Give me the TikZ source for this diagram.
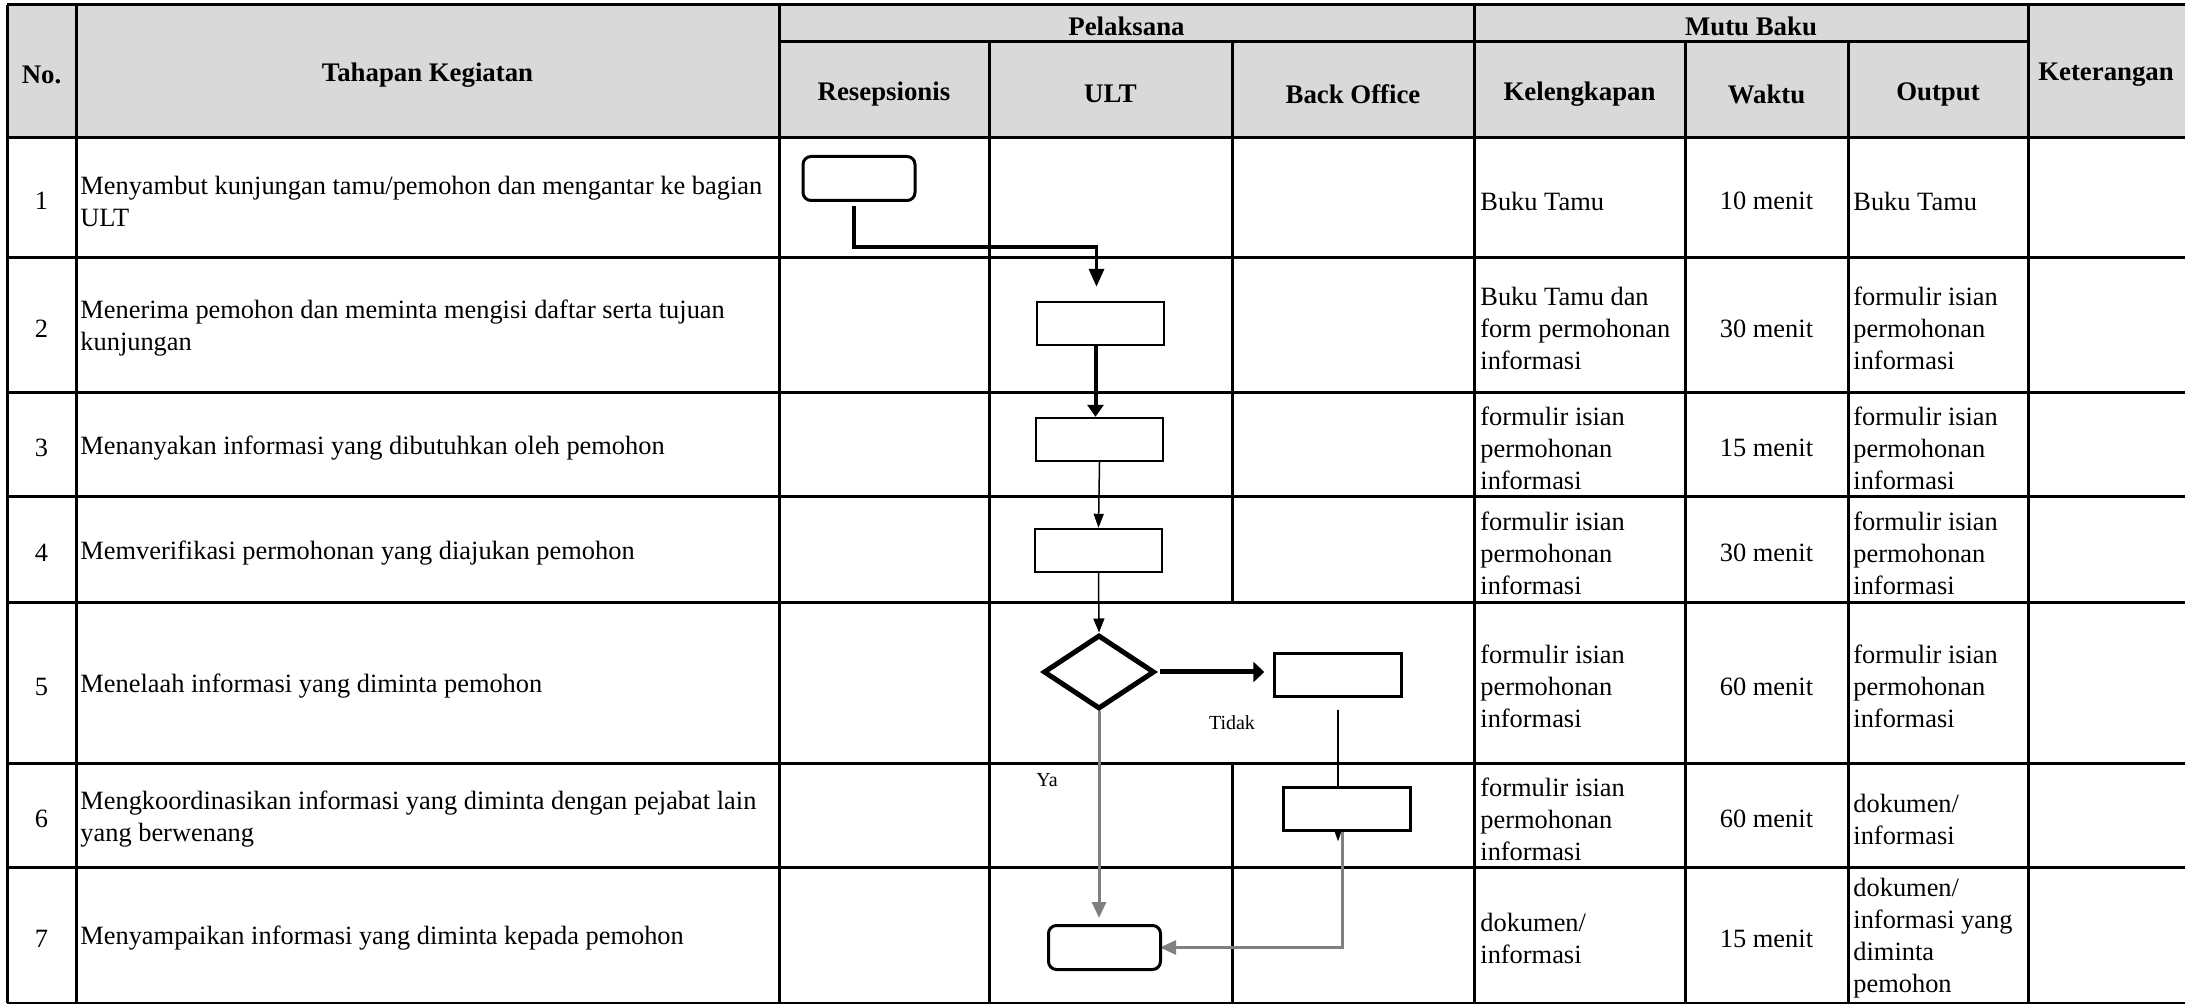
\documentclass[tikz,border=0pt]{standalone}
\usepackage{fontspec}
\setmainfont{Liberation Serif}
\usetikzlibrary{arrows.meta,shapes.geometric}
\pgfdeclarelayer{grid}
\pgfdeclarelayer{links}
\pgfsetlayers{grid,links,main}
\definecolor{headgray}{HTML}{D9D9D9}
\definecolor{linkgray}{HTML}{808080}
\tikzset{
	rowtext/.style={inner sep=0pt, yshift=-1.5pt, font=\fontsize{13.2}{16}\selectfont, align=left},
	headtext/.style={inner sep=0pt, yshift=-1.5pt, font=\fontsize{13.4}{16}\selectfont\bfseries, align=center},
	tag/.style={inner sep=0pt, font=\fontsize{10}{12}\selectfont},
	gridline/.style={line width=1.5pt},
	actbox/.style={draw, fill=white, line width=1.2pt, minimum width=63.5pt, minimum height=21.5pt, inner sep=0pt},
	termbox/.style={draw, fill=white, line width=1.5pt, rounded corners=4pt, minimum width=56pt, minimum height=22pt, inner sep=0pt},
	decbox/.style={draw, fill=white, diamond, line width=2.5pt, minimum width=55.5pt, minimum height=37pt, inner sep=0pt},
	grayline/.style={draw=linkgray, line width=1.5pt, -{Triangle[length=8pt,width=7pt]}, linkgray}
}

\begin{document}
\begin{tikzpicture}[x=0.5pt,y=-0.5pt]
	\useasboundingbox (0,0) rectangle (2185,1004);

	\begin{pgfonlayer}{grid}
	\fill[headgray] (7,5) rectangle (2185,138);
	\draw[gridline] (7,5) -- (2185,5);
	\draw[gridline] (779,42) -- (2028,42);
	\draw[gridline] (7,138) -- (2185,138);
	\draw[gridline] (7,258) -- (2185,258);
	\draw[gridline] (7,393) -- (2185,393);
	\draw[gridline] (7,497) -- (2185,497);
	\draw[gridline] (7,603) -- (2185,603);
	\draw[gridline] (7,764) -- (2185,764);
	\draw[gridline] (7,868) -- (2185,868);
	\draw[gridline] (7,1003) -- (2185,1003);
	\draw[gridline] (7,5) -- (7,1003);
	\draw[gridline] (76,5) -- (76,1003);
	\draw[gridline] (779,5) -- (779,1003);
	\draw[gridline] (989,42) -- (989,1003);
	\draw[gridline] (1232,42) -- (1232,603);
	\draw[gridline] (1232,764) -- (1232,1003);
	\draw[gridline] (1474,5) -- (1474,1003);
	\draw[gridline] (1685,42) -- (1685,1003);
	\draw[gridline] (1848,42) -- (1848,1003);
	\draw[gridline] (2028,5) -- (2028,1003);
	\end{pgfonlayer}

	\node[headtext] (hno) at (41.5,72) {No.};
	\node[headtext] (htahap) at (427.5,72) {Tahapan Kegiatan};
	\node[headtext] (hpelak) at (1126.5,23) {Pelaksana};
	\node[headtext] (hmutu) at (1751,23) {Mutu Baku};
	\node[headtext] (hket) at (2106,72) {Keterangan};
	\node[headtext] (hresep) at (884,91) {Resepsionis};
	\node[headtext] (hult) at (1110.5,91) {ULT};
	\node[headtext] (hback) at (1353,91) {Back Office};
	\node[headtext] (hlengkap) at (1579.5,91) {Kelengkapan};
	\node[headtext] (hwaktu) at (1766.5,91) {Waktu};
	\node[headtext] (houtput) at (1938,91) {Output};

	\node[rowtext] (no1) at (41.5,198) {1};
	\node[rowtext] (no2) at (41.5,325.5) {2};
	\node[rowtext] (no3) at (41.5,445) {3};
	\node[rowtext] (no4) at (41.5,550) {4};
	\node[rowtext] (no5) at (41.5,683.5) {5};
	\node[rowtext] (no6) at (41.5,816) {6};
	\node[rowtext] (no7) at (41.5,935.5) {7};

	\node[rowtext, anchor=west] (keg1) at (80,198) {Menyambut kunjungan tamu/pemohon dan mengantar ke bagian\\ULT};
	\node[rowtext, anchor=west] (keg2) at (80,325.5) {Menerima pemohon dan meminta mengisi daftar serta tujuan\\kunjungan};
	\node[rowtext, anchor=west] (keg3) at (80,445) {Menanyakan informasi yang dibutuhkan oleh pemohon};
	\node[rowtext, anchor=west] (keg4) at (80,550) {Memverifikasi permohonan yang diajukan pemohon};
	\node[rowtext, anchor=west] (keg5) at (80,683.5) {Menelaah informasi yang diminta pemohon};
	\node[rowtext, anchor=west] (keg6) at (80,816) {Mengkoordinasikan informasi yang diminta dengan pejabat lain\\yang berwenang};
	\node[rowtext, anchor=west] (keg7) at (80,935.5) {Menyampaikan informasi yang diminta kepada pemohon};

	\node[rowtext, anchor=west] (kel1) at (1480,198) {Buku Tamu};
	\node[rowtext, anchor=west] (kel2) at (1480,325.5) {Buku Tamu dan\\form permohonan\\informasi};
	\node[rowtext, anchor=west] (kel3) at (1480,445) {formulir isian\\permohonan\\informasi};
	\node[rowtext, anchor=west] (kel4) at (1480,550) {formulir isian\\permohonan\\informasi};
	\node[rowtext, anchor=west] (kel5) at (1480,683.5) {formulir isian\\permohonan\\informasi};
	\node[rowtext, anchor=west] (kel6) at (1480,816) {formulir isian\\permohonan\\informasi};
	\node[rowtext, anchor=west] (kel7) at (1480,935.5) {dokumen/\\informasi};

	\node[rowtext] (wkt1) at (1766.5,198) {10 menit};
	\node[rowtext] (wkt2) at (1766.5,325.5) {30 menit};
	\node[rowtext] (wkt3) at (1766.5,445) {15 menit};
	\node[rowtext] (wkt4) at (1766.5,550) {30 menit};
	\node[rowtext] (wkt5) at (1766.5,683.5) {60 menit};
	\node[rowtext] (wkt6) at (1766.5,816) {60 menit};
	\node[rowtext] (wkt7) at (1766.5,935.5) {15 menit};

	\node[rowtext, anchor=west] (out1) at (1853,198) {Buku Tamu};
	\node[rowtext, anchor=west] (out2) at (1853,325.5) {formulir isian\\permohonan\\informasi};
	\node[rowtext, anchor=west] (out3) at (1853,445) {formulir isian\\permohonan\\informasi};
	\node[rowtext, anchor=west] (out4) at (1853,550) {formulir isian\\permohonan\\informasi};
	\node[rowtext, anchor=west] (out5) at (1853,683.5) {formulir isian\\permohonan\\informasi};
	\node[rowtext, anchor=west] (out6) at (1853,816) {dokumen/\\informasi};
	\node[rowtext, anchor=west] (out7) at (1853,935.5) {dokumen/\\informasi yang\\diminta\\pemohon};

	\node[termbox] (start) at (859,178.5) {};
	\node[actbox] (terima) at (1100.5,323.5) {};
	\node[actbox] (tanya) at (1099.5,439.5) {};
	\node[actbox] (verif) at (1098.5,550.5) {};
	\node[decbox] (telaah) at (1099,672) {};
	\node[actbox] (backoff) at (1338,675) {};
	\node[actbox] (koord) at (1347,809) {};
	\node[termbox] (stop) at (1104.5,947.5) {};
	\node[tag] (tidak) at (1232,723) {Tidak};
	\node[tag] (ya) at (1047,780) {Ya};

	\begin{pgfonlayer}{links}
	\draw[line width=1.75pt, -{Triangle[length=9pt,width=7.5pt]}, shorten >=7pt] ([xshift=-2.5pt,yshift=-2pt]start.south) -- ++(0,41) -| ([xshift=-2pt]terima.north);
	\draw[line width=2pt, -{Triangle[length=6pt,width=8pt]}] ([xshift=-2.5pt]terima.south) -- ([xshift=-2pt]tanya.north);
	\draw[line width=0.75pt, -{Triangle[length=7pt,width=5pt]}] (tanya.south) -- (verif.north);
	\draw[line width=0.75pt, -{Triangle[length=7pt,width=5.5pt]}] (verif.south) -- (telaah.north);
	\draw[line width=2.5pt, -{Triangle[length=5.5pt,width=10pt]}, shorten >=4.5pt] ([xshift=1.5pt]telaah.east) -- (backoff.west |- telaah.east);
	\draw[line width=1.25pt, -{Triangle[length=8pt,width=5pt]}] ([yshift=-6pt]backoff.south) -- ([yshift=-5pt]backoff.south |- koord.south);
	\draw[grayline] (telaah.south) -- ([yshift=3pt]telaah.south |- stop.north);
	\draw[grayline, shorten >=-1pt] ([xshift=-2.5pt]koord.south) |- (stop.east);
	\end{pgfonlayer}
\end{tikzpicture}
\end{document}
